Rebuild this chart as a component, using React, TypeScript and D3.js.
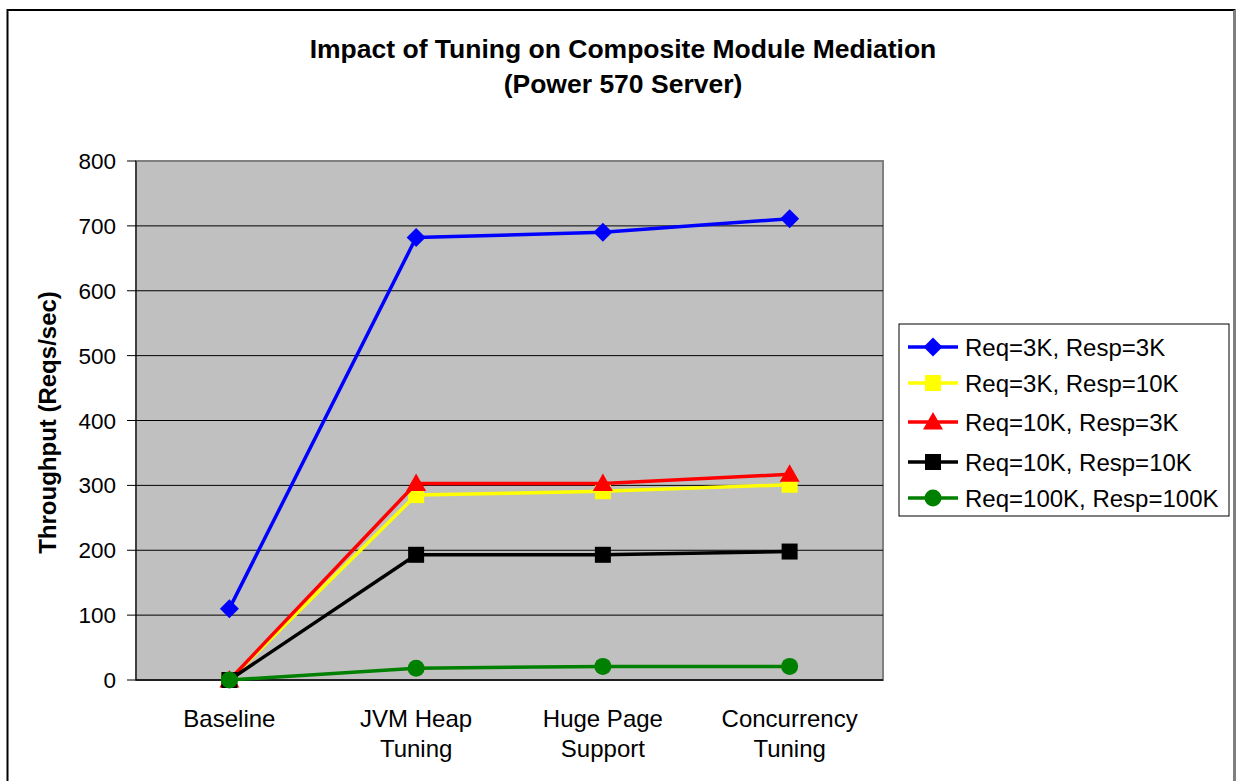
import React from "react";
import * as d3 from "d3";

const categories = ["Baseline|", "JVM Heap|Tuning", "Huge Page|Support", "Concurrency|Tuning"];
const seriesNames = [
  "Req=3K, Resp=3K",
  "Req=3K, Resp=10K",
  "Req=10K, Resp=3K",
  "Req=10K, Resp=10K",
  "Req=100K, Resp=100K",
];
const seriesColors = ["#0000ff", "#ffff00", "#ff0000", "#000000", "#008000"];
const seriesMarkers = ["diamond", "square", "triangle", "square", "circle"];
const values3K3K = [110, 682, 690, 711];
const values3K10K = [0, 285, 291, 301];
const values10K3K = [0, 303, 303, 317];
const values10K10K = [0, 193, 193, 198];
const values100K100K = [0, 18, 21, 21];
const yTicks = [0, 100, 200, 300, 400, 500, 600, 700, 800];

const allValues = [values3K3K, values3K10K, values10K3K, values10K10K, values100K100K];

const FONT = "'Liberation Sans', Arial, sans-serif";

function marker(kind: string, x: number, y: number, color: string, key: string) {
  if (kind === "diamond") {
    const s = 9.5;
    return <path key={key} d={`M${x},${y - s}L${x + s},${y}L${x},${y + s}L${x - s},${y}Z`} fill={color} />;
  }
  if (kind === "square") {
    const s = 8;
    return <rect key={key} x={x - s} y={y - s} width={2 * s} height={2 * s} fill={color} />;
  }
  if (kind === "triangle") {
    const s = 10;
    return <path key={key} d={`M${x},${y - s}L${x + s},${y + s * 0.75}L${x - s},${y + s * 0.75}Z`} fill={color} />;
  }
  return <circle key={key} cx={x} cy={y} r={8.5} fill={color} />;
}

export default function App() {
  const W = 1236, H = 781;
  const left = 136, right = 883, top = 161, bottom = 680;
  const x = d3.scaleBand<number>().domain(d3.range(categories.length)).range([left, right]);
  const y = d3.scaleLinear().domain([0, 800]).range([bottom, top]);
  const cx = (i: number) => (x(i) as number) + x.bandwidth() / 2;
  const line = d3.line<number>().x((_, i) => cx(i)).y((v) => y(v));

  const legX = 899, legY = 324, legW = 330, legH = 192;
  const legRows = [347, 383, 422, 462, 498];

  return (
    <svg width={W} height={H} style={{ position: "absolute", left: 0, top: 0 }} fontFamily={FONT}>
      <rect x={0} y={0} width={W} height={H} fill="#fff" />
      <rect x={7.5} y={10} width={1227} height={790} fill="#fff" stroke="#000" strokeWidth={2} />
      <line x1={1234.5} y1={10} x2={1234.5} y2={781} stroke="#808080" strokeWidth={2} />
      <text x={623} y={58} textAnchor="middle" fontSize={26.5} fontWeight="bold">Impact of Tuning on Composite Module Mediation</text>
      <text x={623} y={93} textAnchor="middle" fontSize={26.5} fontWeight="bold">(Power 570 Server)</text>

      <rect x={left} y={top} width={right - left} height={bottom - top} fill="#c0c0c0" stroke="#808080" strokeWidth={2} />
      {yTicks.map((t) => (
        <g key={t}>
          {t > 0 && t < 800 && <line x1={left} x2={right} y1={y(t)} y2={y(t)} stroke="#000" strokeWidth={1} />}
          <line x1={127} x2={left} y1={y(t)} y2={y(t)} stroke="#000" strokeWidth={1} />
          <text x={116} y={y(t) + 8} textAnchor="end" fontSize={22.5}>{t}</text>
        </g>
      ))}
      <line x1={left} x2={left} y1={top} y2={bottom} stroke="#000" strokeWidth={1} />
      <line x1={left} x2={right} y1={bottom} y2={bottom} stroke="#000" strokeWidth={1.5} />
      {categories.map((c, i) => {
        const parts = c.split("|");
        return (
          <g key={c}>
            <text x={cx(i)} y={727} textAnchor="middle" fontSize={24}>{parts[0]}</text>
            {parts[1] && <text x={cx(i)} y={757} textAnchor="middle" fontSize={24}>{parts[1]}</text>}
          </g>
        );
      })}
      <text transform={`translate(56,${(top + bottom) / 2 + 2}) rotate(-90)`} textAnchor="middle" fontSize={24} fontWeight="bold">Throughput (Reqs/sec)</text>

      {allValues.map((vals, si) => (
        <g key={si}>
          <path d={line(vals) || ""} fill="none" stroke={seriesColors[si]} strokeWidth={3.5} />
          {vals.map((v, i) => marker(seriesMarkers[si], cx(i), y(v), seriesColors[si], `${si}-${i}`))}
        </g>
      ))}

      <rect x={legX} y={legY} width={legW} height={legH} fill="#fff" stroke="#000" strokeWidth={1} />
      {seriesNames.map((n, si) => (
        <g key={n}>
          <line x1={908} x2={958} y1={legRows[si]} y2={legRows[si]} stroke={seriesColors[si]} strokeWidth={3.5} />
          {marker(seriesMarkers[si], 933, legRows[si], seriesColors[si], `l${si}`)}
          <text x={965} y={legRows[si] + 8.5} fontSize={24}>{n}</text>
        </g>
      ))}
    </svg>
  );
}
